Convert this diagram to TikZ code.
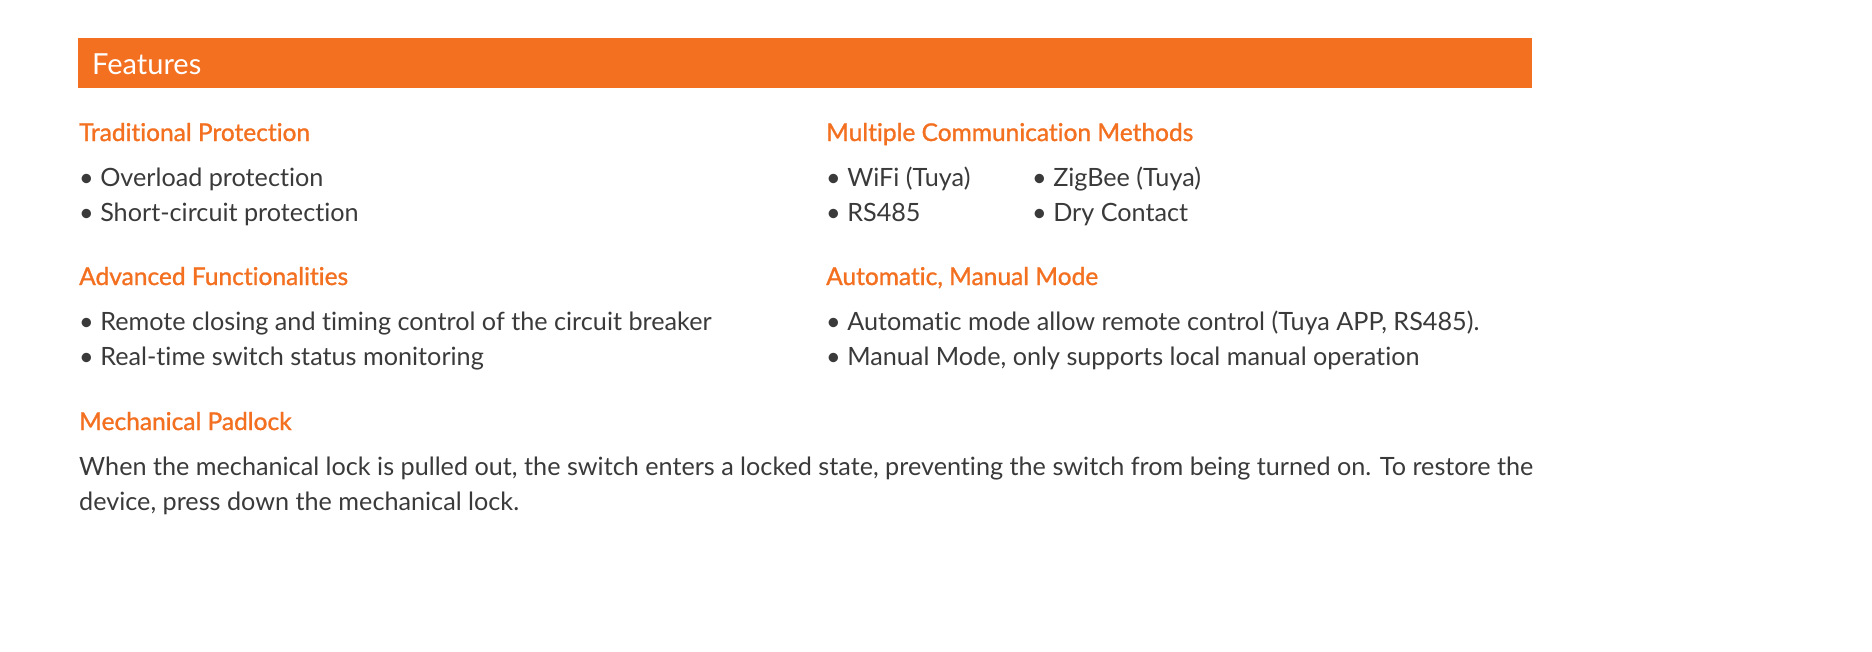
\documentclass[tikz,border=0pt]{standalone}
\usepackage{fontspec}
\setmainfont{Lato}[Ligatures={NoCommon}]
\newfontfamily\headfont{Lato}[Ligatures={NoCommon},FakeBold=1.2]
\definecolor{orng}{HTML}{F37021}
\definecolor{txt}{HTML}{3A3A3A}
\begin{document}
\begin{tikzpicture}[x=1pt,y=-1pt,
  head/.style={anchor=base west,inner sep=0,text=orng,font=\headfont\fontsize{24.5}{28}\selectfont},
  body/.style={anchor=base west,inner sep=0,text=txt,font=\fontsize{25.2}{28}\selectfont}]
\useasboundingbox (0,0) rectangle (1872,651);
\fill[orng] (78,38) rectangle (1532,88);
\node[anchor=base west,inner sep=0,text=white,font=\fontsize{29}{32}\selectfont] (title) at (92,74) {Features};
\node[head] (h1) at (79,141) {Traditional Protection};
\node[body] (b11) at (79,186) {• Overload protection};
\node[body] (b12) at (79,221) {• Short-circuit protection};
\node[head] (h2) at (79,285) {Advanced Functionalities};
\node[body] (b21) at (79,330) {• Remote closing and timing control of the circuit breaker};
\node[body] (b22) at (79,365) {• Real-time switch status monitoring};
\node[head] (h3) at (79,430) {Mechanical Padlock};
\node[body] (p1) at (79,475) {When the mechanical lock is pulled out, the switch enters a locked state, preventing the switch from being turned on. To restore the};
\node[body] (p2) at (79,510) {device, press down the mechanical lock.};
\node[head] (h4) at (826,141) {Multiple Communication Methods};
\node[body] (c1) at (826,186) {• WiFi (Tuya)};
\node[body] (c2) at (1032,186) {• ZigBee (Tuya)};
\node[body] (c3) at (826,221) {• RS485};
\node[body] (c4) at (1032,221) {• Dry Contact};
\node[head] (h5) at (826,285) {Automatic, Manual Mode};
\node[body] (m1) at (826,330) {• Automatic mode allow remote control (Tuya APP, RS485).};
\node[body] (m2) at (826,365) {• Manual Mode, only supports local manual operation};
\end{tikzpicture}
\end{document}
